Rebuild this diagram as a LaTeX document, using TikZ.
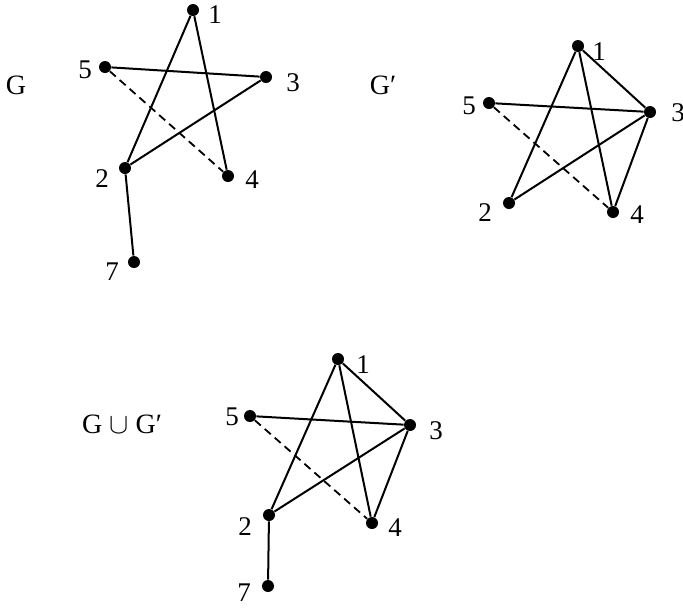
\documentclass[tikz,border=0pt]{standalone}
\usepackage{fontspec}
\setmainfont{Liberation Serif}
\usetikzlibrary{calc}

\begin{document}
\begin{tikzpicture}[x=0.5pt,y=-0.5pt,
    dot/.style={circle,fill,inner sep=0pt,minimum size=6pt},
    num/.style={inner sep=1pt,font=\fontsize{13.5}{15}\selectfont},
    title/.style={inner sep=1pt,font=\fontsize{14}{16}\selectfont},
    edge/.style={line width=1pt},
    dashedge/.style={line width=0.9pt,dash pattern=on 4pt off 2.6pt}]
    \useasboundingbox (0,0) rectangle (683,607);

    % graph G
        \node[title] (tG) at (16,85) {G};
        \node[dot] (a1) at (193,10) {};
        \node[dot] (a5) at (105,67) {};
        \node[dot] (a3) at (266,77) {};
        \node[dot] (a2) at (125,168) {};
        \node[dot] (a4) at (228,176) {};
        \node[dot] (a7) at (134,262) {};
        \node[num] (a1l) at ($(a1)+(22,5)$) {1};
        \node[num] (a5l) at ($(a5)+(-20,3)$) {5};
        \node[num] (a3l) at ($(a3)+(27,6)$) {3};
        \node[num] (a2l) at ($(a2)+(-23,11)$) {2};
        \node[num] (a4l) at ($(a4)+(24,4)$) {4};
        \node[num] (a7l) at ($(a7)+(-22,10)$) {7};
        \draw[edge] (a1) -- (a2);
        \draw[edge] (a1) -- (a4);
        \draw[edge] (a5) -- (a3);
        \draw[edge] (a3) -- (a2);
        \draw[edge] (a2) -- (a7);
        \draw[dashedge] (a5) -- (a4);

    % graph G'
        \node[title] (tGp) at (383,85) {G′};
        \node[dot] (b1) at (578,46) {};
        \node[dot] (b5) at (489,103) {};
        \node[dot] (b3) at (650,112) {};
        \node[dot] (b2) at (509,203) {};
        \node[dot] (b4) at (613,212) {};
        \node[num] (b1l) at ($(b1)+(21,6)$) {1};
        \node[num] (b5l) at ($(b5)+(-20,3)$) {5};
        \node[num] (b3l) at ($(b3)+(28,1)$) {3};
        \node[num] (b2l) at ($(b2)+(-24,10)$) {2};
        \node[num] (b4l) at ($(b4)+(24,3)$) {4};
        \draw[edge] (b1) -- (b2);
        \draw[edge] (b1) -- (b4);
        \draw[edge] (b1) -- (b3);
        \draw[edge] (b5) -- (b3);
        \draw[edge] (b3) -- (b2);
        \draw[edge] (b3) -- (b4);
        \draw[dashedge] (b5) -- (b4);

    % union
        \node[title] (tU) at (122,424) {G $\cup$ G′};
        \node[dot] (c1) at (338,359) {};
        \node[dot] (c5) at (250,416) {};
        \node[dot] (c3) at (410,425) {};
        \node[dot] (c2) at (269,515) {};
        \node[dot] (c4) at (372,523) {};
        \node[dot] (c7) at (268,586) {};
        \node[num] (c1l) at ($(c1)+(25,6)$) {1};
        \node[num] (c5l) at ($(c5)+(-18,1)$) {5};
        \node[num] (c3l) at ($(c3)+(26,6)$) {3};
        \node[num] (c2l) at ($(c2)+(-24,12)$) {2};
        \node[num] (c4l) at ($(c4)+(23,5)$) {4};
        \node[num] (c7l) at ($(c7)+(-24,7)$) {7};
        \draw[edge] (c1) -- (c2);
        \draw[edge] (c1) -- (c4);
        \draw[edge] (c1) -- (c3);
        \draw[edge] (c5) -- (c3);
        \draw[edge] (c3) -- (c2);
        \draw[edge] (c3) -- (c4);
        \draw[edge] (c2) -- (c7);
        \draw[dashedge] (c5) -- (c4);
\end{tikzpicture}
\end{document}
